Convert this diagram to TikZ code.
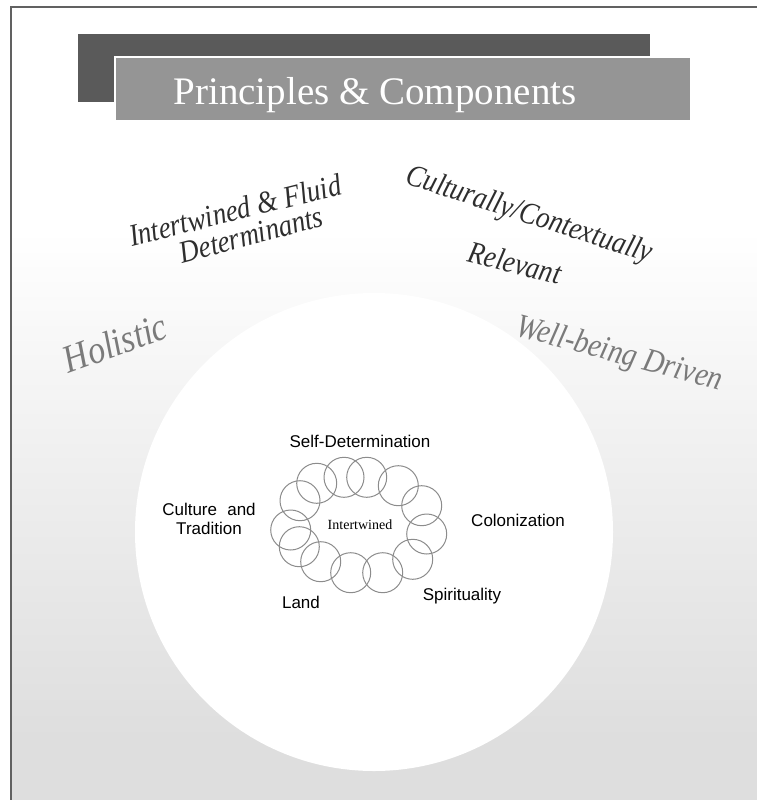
\documentclass[tikz,border=0pt]{standalone}
\usepackage{fontspec}
\setmainfont{Liberation Serif}
\newfontfamily\arialf{Liberation Sans}
\IfFontExistsTF{Liberation Serif Italic}{\newfontfamily\labit{Liberation Serif Italic}}{\newfontfamily\labit{Latin Modern Roman}[UprightFont=*/I]}
\definecolor{bardark}{HTML}{5A5A5A}
\definecolor{barlight}{HTML}{959595}
\definecolor{labdark}{HTML}{2E2E2E}
\definecolor{labgray}{HTML}{7A7A7A}
\definecolor{bgmid}{HTML}{EEEEEE}
\definecolor{bgbottom}{HTML}{DEDEDE}
\definecolor{ringcol}{HTML}{8C8C8C}
\tikzset{
  arclab/.style={font=\labit\fontsize{27}{30}\selectfont, text=labdark, inner sep=0pt, yscale=1.15, transform shape},
  softlab/.style={font=\labit\fontsize{29}{32}\selectfont, text=labgray, inner sep=0pt, yscale=1.15, transform shape},
  inlab/.style={font=\arialf\fontsize{17}{19}\selectfont, text=black, inner sep=0pt, align=center},
  ring/.style={draw=ringcol, line width=1pt, circle, minimum size=40pt, inner sep=0pt}
}
\begin{document}
\begin{tikzpicture}[x=1pt,y=-1pt]
\useasboundingbox (0,0) rectangle (757,800);
% background
\fill[white] (0,0) rectangle (757,800);
\shade[top color=white, bottom color=bgmid] (11,230) rectangle (757,480);
\shade[top color=bgmid, bottom color=bgbottom] (11,480) rectangle (757,740);
\fill[bgbottom] (11,740) rectangle (757,800);
% frame
\draw[black!62, line width=1.6pt] (11,800) -- (11,7) -- (757,7);
% title bars
\node[fill=bardark, minimum width=572pt, minimum height=68pt, inner sep=0pt, anchor=north west] (bardk) at (78,34) {};
\node[fill=barlight, draw=white, line width=2pt, minimum width=576pt, minimum height=64pt, inner sep=0pt, anchor=north west] (barlt) at (114,56) {};
\node[text=white, font=\fontsize{39}{42}\selectfont, inner sep=0pt, anchor=base] (title) at (375,104) {Principles \& Components};
% big circle
\node[fill=white, circle, minimum size=478pt, inner sep=0pt] (disc) at (374,532) {};
% outer labels
\node[rotate=14, arclab] (ifa) at (235,210) {Intertwined \& Fluid};
\node[rotate=15, arclab] (ifb) at (251,235) {Determinants};
\node[rotate=-18, arclab] (cca) at (529,216) {Culturally/Contextually};
\node[rotate=-14, arclab] (ccb) at (515,263) {Relevant};
\node[rotate=20, softlab, font=\labit\fontsize{34}{36}\selectfont] (hol) at (115,343) {Holistic};
\node[rotate=-15, softlab] (wbd) at (619,355) {Well-being Driven};
% ring of circles
\foreach \cx/\cy [count=\i] in {316.7/483.3, 344/477.3, 366.7/477.3, 398.3/485.7, 421.7/505.7, 426.7/534, 412.7/559.3, 382.7/572.7, 350.7/572.7, 320.7/561.7, 299.3/546.7, 290.7/530, 300/500.7}
  \node[ring] (r\i) at (\cx,\cy) {};
\node[font=\fontsize{14}{16}\selectfont, inner sep=0pt] (itw) at (360,525) {Intertwined};
% inner labels
\node[inlab] (sd) at (360,441) {Self-Determination};
\node[inlab] (ct) at (209,519) {Culture\hspace{0.6em}and\\Tradition};
\node[inlab] (col) at (518,520) {Colonization};
\node[inlab] (land) at (301,602) {Land};
\node[inlab] (spi) at (462,596) {Spirituality};
\end{tikzpicture}
\end{document}
